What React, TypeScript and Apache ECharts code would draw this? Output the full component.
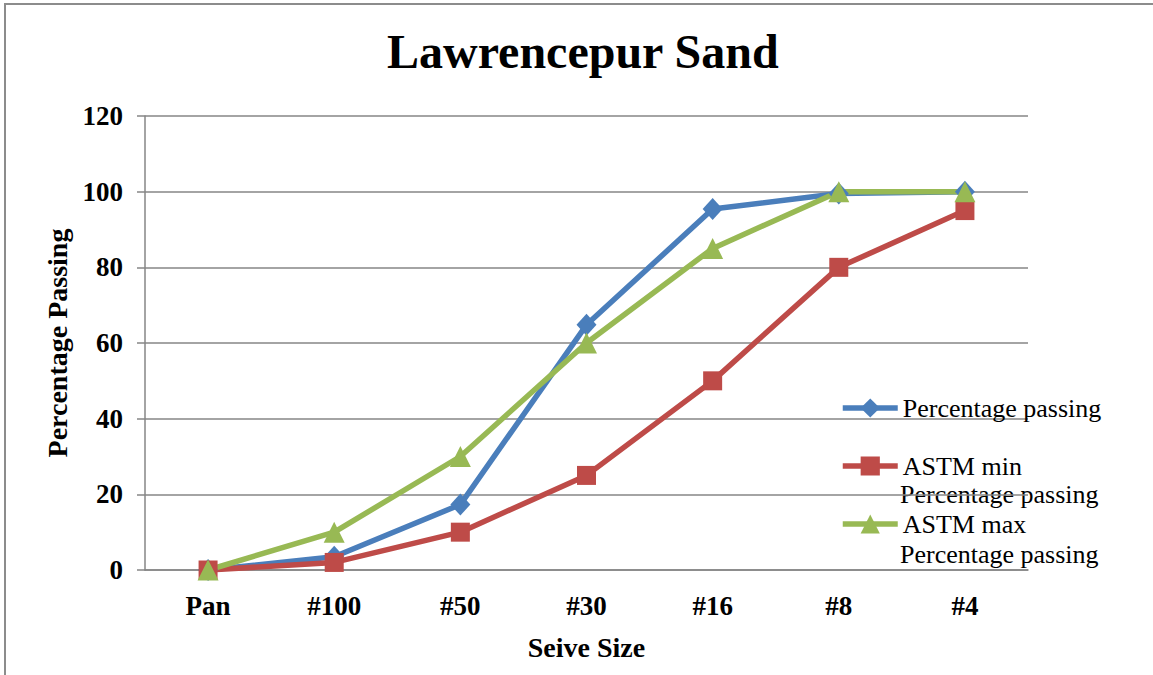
import React, { useEffect, useRef } from "react";
import * as echarts from "echarts";

const categories = ["Pan", "#100", "#50", "#30", "#16", "#8", "#4"];
const percentagePassing = [0, 3.5, 17.3, 64.8, 95.4, 99.5, 100];
const astmMin = [0, 2, 10, 25, 50, 80, 95];
const astmMax = [0, 10, 30, 60, 85, 100, 100];
const seriesNames = ["Percentage passing", "ASTM min", "ASTM max"];
const yTicks = { min: 0, max: 120, interval: 20 };

const FONT = "'Liberation Serif', 'Times New Roman', serif";
const GRID_COLOR = "#868686";

export default function App() {
  const ref = useRef<HTMLDivElement>(null);
  useEffect(() => {
    if (!ref.current) return;
    const chart = echarts.init(ref.current, undefined, { renderer: "svg" });
    const legendBase = {
      orient: "vertical" as const,
      left: 840,
      padding: 0,
      itemWidth: 55,
      itemHeight: 24,
      itemGap: 0,
      lineStyle: { width: 5.5 },
      textStyle: { fontFamily: FONT, fontSize: 26, color: "#000", lineHeight: 30 },
    };
    chart.setOption({
      animation: false,
      backgroundColor: "#fff",
      title: {
        text: "Lawrencepur Sand",
        left: 387,
        top: 27,
        padding: 0,
        textStyle: { fontFamily: FONT, fontSize: 48, fontWeight: "bold", color: "#000" },
      },
      legend: [
        { ...legendBase, top: 393, data: [seriesNames[0]] },
        { ...legendBase, top: 451, data: [seriesNames[1]] },
        { ...legendBase, top: 509, data: [seriesNames[2]] },
      ],
      graphic: [
        {
          type: "rect",
          shape: { x: 5, y: 4, width: 1300, height: 800 },
          style: { fill: "none", stroke: "#8c8c8c", lineWidth: 2 },
          silent: true,
        },
        {
          type: "text",
          left: 900,
          top: 481,
          style: { text: "Percentage passing", font: `26px ${FONT}`, fill: "#000" },
        },
        {
          type: "text",
          left: 900,
          top: 541,
          style: { text: "Percentage passing", font: `26px ${FONT}`, fill: "#000" },
        },
      ],
      grid: { left: 145, top: 116, width: 883, bottom: 105, containLabel: false },
      xAxis: {
        type: "category",
        data: categories,
        boundaryGap: true,
        name: "Seive Size",
        nameLocation: "middle",
        nameGap: 63,
        nameTextStyle: { fontFamily: FONT, fontSize: 28, fontWeight: "bold", color: "#000" },
        axisLine: { lineStyle: { color: GRID_COLOR, width: 1.5 } },
        axisTick: { show: false },
        axisLabel: { fontFamily: FONT, fontSize: 27, fontWeight: "bold", color: "#000", margin: 22 },
        splitLine: { show: false },
      },
      yAxis: {
        type: "value",
        min: yTicks.min,
        max: yTicks.max,
        interval: yTicks.interval,
        name: "Percentage Passing",
        nameLocation: "middle",
        nameGap: 70,
        nameTextStyle: { fontFamily: FONT, fontSize: 28, fontWeight: "bold", color: "#000" },
        axisLine: { show: true, lineStyle: { color: GRID_COLOR, width: 1.5 } },
        axisTick: { show: true, length: 8, lineStyle: { color: GRID_COLOR, width: 1.5 } },
        axisLabel: { fontFamily: FONT, fontSize: 27, fontWeight: "bold", color: "#000", margin: 22 },
        splitLine: { lineStyle: { color: GRID_COLOR, width: 1.5 } },
      },
      series: [
        {
          name: seriesNames[0],
          type: "line",
          data: percentagePassing,
          symbol: "diamond",
          symbolSize: [20, 22],
          color: "#4A7EBB",
          lineStyle: { width: 5.5, color: "#4A7EBB" },
          itemStyle: { color: "#4A7EBB" },
        },
        {
          name: seriesNames[1],
          type: "line",
          data: astmMin,
          symbol: "rect",
          symbolSize: 19,
          color: "#BE4B48",
          lineStyle: { width: 5.5, color: "#BE4B48" },
          itemStyle: { color: "#BE4B48" },
        },
        {
          name: seriesNames[2],
          type: "line",
          data: astmMax,
          symbol: "triangle",
          symbolSize: [21, 21],
          color: "#98B954",
          lineStyle: { width: 5.5, color: "#98B954" },
          itemStyle: { color: "#98B954" },
        },
      ],
    });
    return () => chart.dispose();
  }, []);
  return (
    <div
      ref={ref}
      style={{ position: "fixed", left: 0, top: 0, width: 1153, height: 675 }}
    />
  );
}
